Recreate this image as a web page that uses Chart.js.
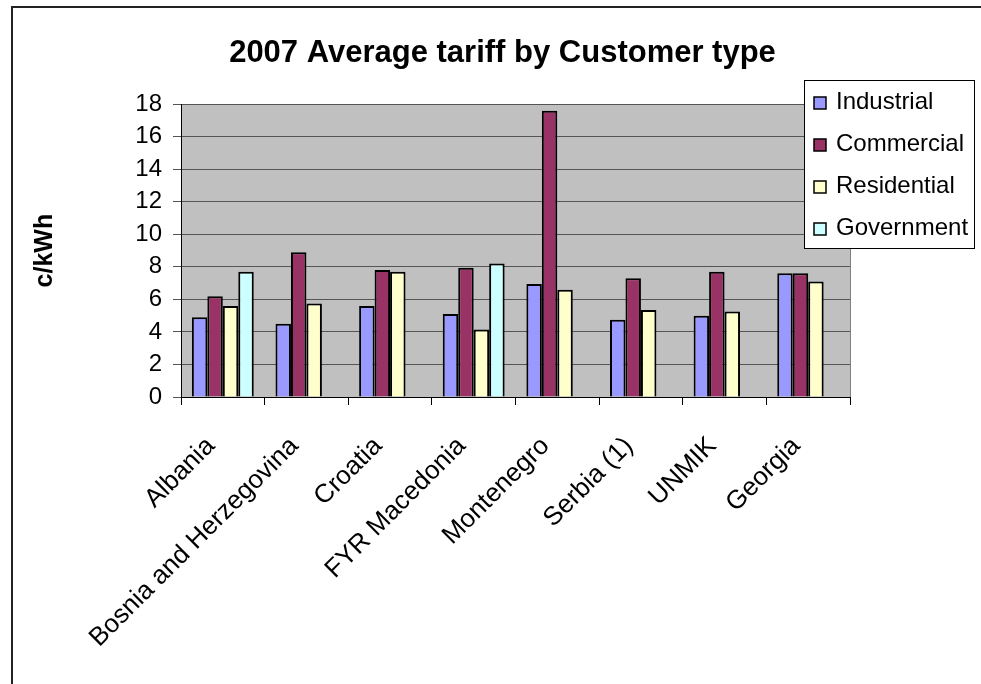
<!DOCTYPE html>
<html>
<head>
<meta charset="utf-8">
<script src="https://cdn.jsdelivr.net/npm/chart.js@4"></script>
<style>
  html, body { margin: 0; padding: 0; background: #fff; }
  #wrap { width: 981px; height: 684px; }
</style>
</head>
<body>
<div id="wrap"><canvas id="tarifa" width="981" height="684"></canvas></div>
<script>
// datos
const paises = ['Albania', 'Bosnia and Herzegovina', 'Croatia', 'FYR Macedonia', 'Montenegro', 'Serbia (1)', 'UNMIK', 'Georgia'];
const industrial = [4.9, 4.5, 5.6, 5.1, 6.95, 4.75, 5.0, 7.6];
const commercial = [6.2, 8.9, 7.8, 7.95, 17.6, 7.3, 7.7, 7.6];
const residential = [5.6, 5.75, 7.7, 4.15, 6.6, 5.35, 5.25, 7.1];
const government = [7.7, null, null, 8.2, null, null, null, null];
const yTicks = [0, 2, 4, 6, 8, 10, 12, 14, 16, 18];

const fuente = 'Liberation Sans, Arial, sans-serif';

/* fondo gris del area y marco exterior */
const fondo = {
  id: 'fondo',
  beforeDraw(chart) {
    const {ctx, chartArea} = chart;
    ctx.save();
    ctx.fillStyle = '#fff';
    ctx.fillRect(0, 0, chart.width, chart.height);
    ctx.fillStyle = '#c0c0c0';
    ctx.fillRect(chartArea.left, chartArea.top, chartArea.right - chartArea.left, chartArea.bottom - chartArea.top);
    ctx.restore();
  },
  afterDraw(chart) {
    const {ctx, chartArea} = chart;
    ctx.save();
    ctx.strokeStyle = '#808080';
    ctx.lineWidth = 1;
    ctx.beginPath();
    ctx.moveTo(Math.round(chartArea.right) + 0.5, chartArea.top);
    ctx.lineTo(Math.round(chartArea.right) + 0.5, chartArea.bottom);
    ctx.stroke();
    ctx.strokeStyle = '#222';
    ctx.lineWidth = 2;
    ctx.strokeRect(12, 7, 1200, 1200);
    ctx.restore();
  }
};

/* leyenda tipo excel encima del grafico */
const leyenda = {
  id: 'leyenda',
  afterDraw(chart) {
    const {ctx} = chart;
    const x = 804.5, y = 80.5, w = 170, h = 168;
    ctx.save();
    ctx.fillStyle = '#fff';
    ctx.fillRect(x, y, w, h);
    ctx.strokeStyle = '#000';
    ctx.lineWidth = 1;
    ctx.strokeRect(x, y, w, h);
    ctx.font = '24px ' + fuente;
    ctx.textBaseline = 'middle';
    chart.data.datasets.forEach((ds, i) => {
      const cy = 102 + i * 42;
      ctx.fillStyle = ds.backgroundColor;
      ctx.fillRect(814, cy - 5, 12, 12);
      ctx.strokeStyle = '#000';
      ctx.lineWidth = 1.5;
      ctx.strokeRect(814, cy - 5, 12, 12);
      ctx.fillStyle = '#000';
      ctx.fillText(ds.label, 836, cy);
    });
    ctx.restore();
  }
};

const canvas = document.getElementById('tarifa');
const grafico = new Chart(canvas, {
  type: 'bar',
  data: {
    labels: paises,
    datasets: [
      {label: 'Industrial', data: industrial, backgroundColor: '#9999ff'},
      {label: 'Commercial', data: commercial, backgroundColor: '#993366'},
      {label: 'Residential', data: residential, backgroundColor: '#ffffcc'},
      {label: 'Government', data: government, backgroundColor: '#ccffff'},
    ].map(d => Object.assign(d, {borderColor: '#000', borderWidth: 2, categoryPercentage: 0.74, barPercentage: 1.0}))
  },
  options: {
    responsive: false,
    animation: false,
    layout: {padding: {left: 24, right: 0, top: 0, bottom: 0}},
    plugins: {
      legend: {display: false},
      tooltip: {enabled: false},
      title: {
        display: true,
        text: '2007 Average tariff by Customer type',
        color: '#000',
        font: {family: fuente, size: 31, weight: 'bold'},
        padding: {top: 35, bottom: 32}
      }
    },
    scales: {
      x: {
        afterFit: s => { s.height = 684 - 397; },
        grid: {display: true, drawOnChartArea: false, drawTicks: true, tickLength: 8, color: '#000', offset: true},
        border: {display: true, color: '#000', width: 1},
        ticks: {
          color: '#000', font: {family: fuente, size: 26},
          minRotation: 45, maxRotation: 45, autoSkip: false, padding: 26, labelOffset: -12
        }
      },
      y: {
        min: 0, max: 18,
        afterFit: s => { s.width = 181 - 24; },
        afterBuildTicks: s => { s.ticks = yTicks.map(v => ({value: v})); },
        grid: {color: '#555', tickLength: 8, drawTicks: true},
        border: {display: true, color: '#000', width: 1},
        ticks: {color: '#000', font: {family: fuente, size: 24}, padding: 11},
        title: {
          display: true, text: 'c/kWh', color: '#000',
          font: {family: fuente, size: 25, weight: 'bold'},
          padding: {top: 6, bottom: 0}
        }
      },
      // eje vacio para dejar el hueco de la derecha
      hueco: {
        type: 'linear', position: 'right', display: true,
        afterFit: s => { s.width = 981 - 850; },
        grid: {display: false},
        border: {display: false},
        ticks: {display: false}
      }
    }
  },
  plugins: [fondo, leyenda]
});
</script>
</body>
</html>
